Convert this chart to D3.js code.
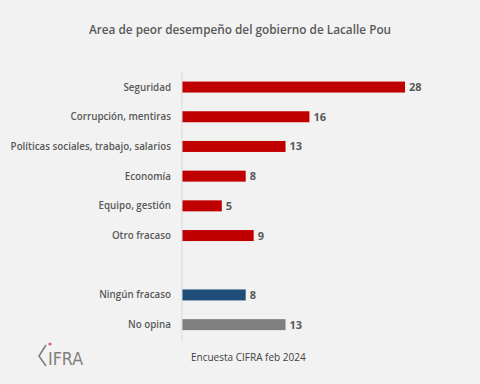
<!DOCTYPE html>
<html><head><meta charset="utf-8">
<script src="https://cdn.jsdelivr.net/npm/d3@7"></script>
<style>body{margin:0;background:#f2f2f2;}svg{display:block;}</style>
</head><body>
<script>
const categories = ["Seguridad","Corrupción, mentiras","Políticas sociales, trabajo, salarios","Economía","Equipo, gestión","Otro fracaso","","Ningún fracaso","No opina"];
const values = [28,16,13,8,5,9,null,8,13];
const groups = ["fail","fail","fail","fail","fail","fail","gap","none","noop"];
const colors = {fail:"#c00000", none:"#1f4e79", noop:"#808080"};
const title = "Area de peor desempeño del gobierno de Lacalle Pou";
const source = "Encuesta CIFRA feb 2024";

const W=480,H=384;
const svg=d3.select("body").append("svg").attr("width",W).attr("height",H);
svg.append("rect").attr("width",W).attr("height",H).attr("fill","#f2f2f2");
const font="'Open Sans', 'Noto Sans', sans-serif";
const txt="#595959";

svg.append("text").attr("x",240).attr("y",34).attr("text-anchor","middle")
  .attr("font-family",font).attr("font-size",11.8).attr("font-weight",600).attr("fill",txt).text(title);

const x=d3.scaleLinear().domain([0,28]).range([182,405]);
const idx=categories.map((d,i)=>i);
const y=d3.scaleBand().domain(idx).range([72.2,339.5]).paddingInner(0.63).paddingOuter(0.315);

const rows=svg.append("g");
idx.forEach(i=>{
  if(values[i]==null) return;
  rows.append("rect").attr("x",x(0)).attr("y",y(i)).attr("width",x(values[i])-x(0)).attr("height",y.bandwidth())
    .attr("fill",colors[groups[i]]);
  rows.append("text").attr("x",x(values[i])+4).attr("y",y(i)+y.bandwidth()/2).attr("dy","0.36em")
    .attr("font-family",font).attr("font-size",11).attr("font-weight",700).attr("fill",txt).text(values[i]);
  rows.append("text").attr("x",171).attr("y",y(i)+y.bandwidth()/2).attr("dy","0.36em").attr("text-anchor","end")
    .attr("font-family",font).attr("font-size",9.8).attr("font-weight",600).attr("fill",txt).text(categories[i]);
});
svg.append("line").attr("x1",x(0)).attr("x2",x(0)).attr("y1",72).attr("y2",341)
  .attr("stroke","#d9d9d9").attr("stroke-width",1);

svg.append("text").attr("x",191).attr("y",361).attr("font-family",font).attr("font-size",10)
  .attr("fill","#404040").text(source);

// logo
const logo=svg.append("g");
logo.append("path").attr("d","M46,345 L39,356 L46,366").attr("fill","none").attr("stroke","#7f7f7f").attr("stroke-width",1.6);
logo.append("circle").attr("cx",50).attr("cy",344).attr("r",1.6).attr("fill","#e06060");
logo.append("text").attr("x",48).attr("y",365).attr("font-family","'DejaVu Sans Condensed','DejaVu Sans',sans-serif")
  .attr("font-size",17).attr("fill","#7f7f7f").attr("textLength",35).attr("lengthAdjust","spacingAndGlyphs").text("IFRA");
</script>
</body></html>
